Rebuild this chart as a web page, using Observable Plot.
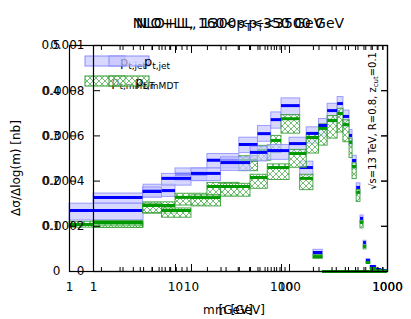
<!DOCTYPE html>
<html><head><meta charset="utf-8">
<script src="https://cdn.jsdelivr.net/npm/d3@7"></script>
<script src="https://cdn.jsdelivr.net/npm/@observablehq/plot@0.6"></script>
<style>
body{margin:0;background:#fff;}
#wrap{position:relative;width:411px;height:319px;}
#wrap svg{position:absolute;left:0;top:0;}
</style></head><body><div id="wrap"></div>
<script>
// ---- tick values ----
const xMajor = [1, 10, 100, 1000];
const xMinor = [2,3,4,5,6,7,8,9,20,30,40,50,60,70,80,90,200,300,400,500,600,700,800,900];
const yTicksA = [0, 0.1, 0.2, 0.3, 0.4, 0.5];
const yTicksB = [0, 0.0002, 0.0004, 0.0006, 0.0008, 0.001];

// ---- panel A (160<pT<350) ----
const edgesA = [1, 5, 10, 20, 40, 60, 80, 100, 150, 200, 245, 1000];
const jetA    = [0.135, 0.179, 0.215, 0.246, 0.281, 0.305, 0.336, 0.367, 0.230, 0.042, 0];
const jetA_hi = [0.150, 0.192, 0.228, 0.260, 0.296, 0.322, 0.352, 0.383, 0.243, 0.048, 0];
const jetA_lo = [0.113, 0.165, 0.200, 0.228, 0.262, 0.287, 0.316, 0.345, 0.212, 0.037, 0];
const mmdtA    = [0.104, 0.146, 0.164, 0.188, 0.246, 0.268, 0.290, 0.338, 0.206, 0.033, 0];
const mmdtA_hi = [0.110, 0.153, 0.172, 0.196, 0.255, 0.278, 0.300, 0.346, 0.214, 0.037, 0];
const mmdtA_lo = [0.097, 0.128, 0.146, 0.168, 0.222, 0.245, 0.262, 0.305, 0.180, 0.028, 0];

// ---- panel B (1300<pT<3500) ----
const edgesB = [1, 3.2, 5, 10, 20, 40, 60, 100, 150, 200, 245, 310, 355, 410, 440, 485, 530, 570, 610, 670, 770, 870, 1000];
const jetB    = [0.000327,0.000354,0.000412,0.000434,0.000482,0.000527,0.000535,0.000566,0.000611,0.000646,0.000712,0.000743,0.000686,0.000602,0.000491,0.000372,0.000235,0.000128,0.000049,0.000022,0.000009,0.000004];
const jetB_hi = [0.000345,0.000372,0.000432,0.000456,0.000505,0.000552,0.000560,0.000592,0.000638,0.000675,0.000742,0.000772,0.000712,0.000626,0.000512,0.000390,0.000248,0.000136,0.000054,0.000025,0.000011,0.000005];
const jetB_lo = [0.000301,0.000326,0.000380,0.000400,0.000445,0.000487,0.000494,0.000523,0.000565,0.000598,0.000660,0.000690,0.000637,0.000558,0.000452,0.000342,0.000214,0.000116,0.000043,0.000019,0.000007,0.000003];
const mmdtB    = [0.000217,0.000292,0.000270,0.000327,0.000376,0.000416,0.000460,0.000522,0.000593,0.000633,0.000668,0.000699,0.000650,0.000571,0.000465,0.000350,0.000217,0.000111,0.000040,0.000013,0.000004,0.000002];
const mmdtB_hi = [0.000224,0.000300,0.000279,0.000337,0.000388,0.000428,0.000474,0.000538,0.000610,0.000651,0.000688,0.000720,0.000669,0.000588,0.000479,0.000361,0.000224,0.000115,0.000042,0.000014,0.000005,0.000002];
const mmdtB_lo = [0.000193,0.000258,0.000238,0.000288,0.000331,0.000366,0.000405,0.000459,0.000522,0.000557,0.000588,0.000615,0.000572,0.000502,0.000409,0.000308,0.000191,0.000098,0.000034,0.000011,0.000003,0.000001];

// ---- texts ----
const titleA = ["NLO+LL, 160<p", "T", "<350 GeV"];
const titleB = ["NLO+LL, 1300<p", "T", "<3500 GeV"];
const xLabel = "m [GeV]";
const yLabel = "Δσ/Δlog(m) [nb]";
const legendJet = ["p", "t,jet"];
const legendMmdt = ["p", "t,mMDT"];
const sideText = ["√s=13 TeV, R=0.8, z", "cut", "=0.1"];

function rows(edges, v, lo, hi) {
  return v.map((d, i) => ({x1: edges[i], x2: edges[i + 1], v: d, lo: lo[i], hi: hi[i]}));
}

function makePlot(o) {
  const jet = rows(o.edges, o.jet, o.jetLo, o.jetHi);
  const mm = rows(o.edges, o.mmdt, o.mmdtLo, o.mmdtHi);
  const fmt = d => String(d);
  const none = () => "";
  const svg = Plot.plot({
    width: 411, height: 319,
    marginLeft: o.left, marginRight: 24, marginTop: 45, marginBottom: 48,
    style: {background: "transparent", fontFamily: "DejaVu Sans", fontSize: "12px", color: "black", overflow: "visible"},
    x: {type: "log", domain: [1, 1000]},
    y: {domain: [0, o.ymax]},
    marks: [
      Plot.rect(jet, {x1: "x1", x2: "x2", y1: "lo", y2: "hi", fill: "#c6c6ff", fillOpacity: 0.7, stroke: "#8a8aff", strokeOpacity: 0.8, strokeWidth: 1}),
      Plot.rect(mm, {x1: "x1", x2: "x2", y1: "lo", y2: "hi", fill: `url(#${o.id})`, stroke: "#2f9a2f", strokeOpacity: 0.85, strokeWidth: 1}),
      Plot.ruleY(jet, {x1: "x1", x2: "x2", y: "v", stroke: "#0000ff", strokeWidth: 3}),
      Plot.ruleY(mm, {x1: "x1", x2: "x2", y: "v", stroke: "#009a00", strokeWidth: 3}),
      Plot.frame({stroke: "black", strokeWidth: 1.2}),
      Plot.axisX({anchor: "bottom", ticks: xMajor, tickSize: 0, tickPadding: 11, tickFormat: fmt, label: null}),
      Plot.axisX({anchor: "bottom", ticks: xMajor, tickSize: -7, tickFormat: none, label: null}),
      Plot.axisX({anchor: "bottom", ticks: xMinor, tickSize: -4, tickFormat: none, label: null}),
      Plot.axisX({anchor: "top", ticks: xMajor, tickSize: -7, tickFormat: none, label: null}),
      Plot.axisX({anchor: "top", ticks: xMinor, tickSize: -4, tickFormat: none, label: null}),
      Plot.axisY({anchor: "left", ticks: o.yTicks, tickSize: 0, tickPadding: 9, tickFormat: fmt, label: null}),
      Plot.axisY({anchor: "left", ticks: o.yTicks, tickSize: -7, tickFormat: none, label: null}),
      Plot.axisY({anchor: "right", ticks: o.yTicks, tickSize: -7, tickFormat: none, label: null})
    ]
  });
  const s = d3.select(svg);
  const pat = s.append("defs").append("pattern").attr("id", o.id)
    .attr("patternUnits", "userSpaceOnUse").attr("width", 6).attr("height", 6);
  pat.append("rect").attr("width", 6).attr("height", 6).attr("fill", "white").attr("fill-opacity", 0.5);
  pat.append("path").attr("d", "M0,0L6,6M6,0L0,6").attr("stroke", "#4fae4f").attr("stroke-width", 0.8).attr("fill", "none");

  const g = s.append("g").attr("font-family", "DejaVu Sans").attr("fill", "black");
  // title
  const t = g.append("text").attr("x", o.cx).attr("y", 28).attr("text-anchor", "middle").attr("font-size", 14);
  t.append("tspan").text(o.title[0]);
  t.append("tspan").attr("font-size", 10).attr("dy", 3).text(o.title[1]);
  t.append("tspan").attr("dy", -3).text(o.title[2]);
  // x label
  g.append("text").attr("x", o.cx).attr("y", 314).attr("text-anchor", "middle").attr("font-size", 12).text(xLabel);
  // legend
  const lx = o.left + 16;
  g.append("rect").attr("x", lx).attr("y", 56).attr("width", 40).attr("height", 10)
    .attr("fill", "#c6c6ff").attr("fill-opacity", 0.7).attr("stroke", "#8a8aff");
  g.append("rect").attr("x", lx).attr("y", 76).attr("width", 40).attr("height", 10)
    .attr("fill", `url(#${o.id})`).attr("stroke", "#2f9a2f");
  [[legendJet, 66], [legendMmdt, 86]].forEach(([lab, y]) => {
    const tx = g.append("text").attr("x", lx + 48).attr("y", y).attr("font-size", 13);
    tx.append("tspan").text(lab[0]);
    tx.append("tspan").attr("font-size", 9).attr("dy", 3).text(lab[1]);
  });
  if (o.extra) {
    g.append("text").attr("transform", "translate(20,168) rotate(-90)").attr("text-anchor", "middle")
      .attr("font-size", 12).text(yLabel);
    const st = g.append("text").attr("transform", "translate(376,52) rotate(-90)").attr("text-anchor", "end").attr("font-size", 10);
    st.append("tspan").text(sideText[0]);
    st.append("tspan").attr("font-size", 7).attr("dy", 2).text(sideText[1]);
    st.append("tspan").attr("dy", -2).text(sideText[2]);
  }
  return svg;
}

const wrap = document.getElementById("wrap");
wrap.append(makePlot({id: "hatchA", left: 69, cx: 228, ymax: 0.5, yTicks: yTicksA, edges: edgesA,
  jet: jetA, jetLo: jetA_lo, jetHi: jetA_hi, mmdt: mmdtA, mmdtLo: mmdtA_lo, mmdtHi: mmdtA_hi, title: titleA, extra: true}));
wrap.append(makePlot({id: "hatchB", left: 93, cx: 240, ymax: 0.001, yTicks: yTicksB, edges: edgesB,
  jet: jetB, jetLo: jetB_lo, jetHi: jetB_hi, mmdt: mmdtB, mmdtLo: mmdtB_lo, mmdtHi: mmdtB_hi, title: titleB, extra: false}));
</script></body></html>
